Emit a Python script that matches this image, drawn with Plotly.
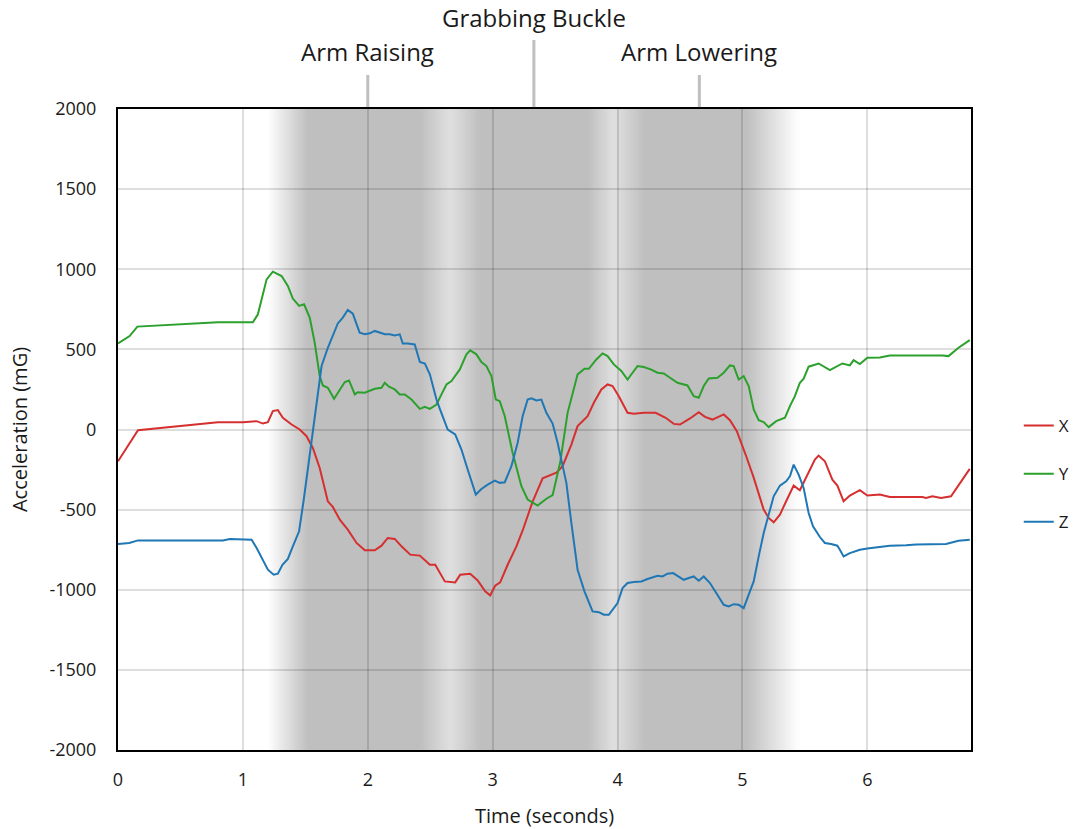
import numpy as np
import plotly.graph_objects as go

# ---------------- data ----------------
t_x = [0, 0.08, 0.16, 0.80, 1.0, 1.11, 1.16, 1.20, 1.24, 1.28, 1.32, 1.39, 1.455, 1.51, 1.56, 1.615,
       1.68, 1.72, 1.776, 1.84, 1.91, 1.976, 2.056, 2.11, 2.16, 2.216, 2.27, 2.34, 2.417, 2.497, 2.54,
       2.617, 2.70, 2.74, 2.82, 2.88, 2.94, 2.98, 3.02, 3.06, 3.12, 3.19, 3.24, 3.32, 3.40, 3.51, 3.56,
       3.63, 3.68, 3.76, 3.81, 3.87, 3.92, 3.96, 4.01, 4.08, 4.13, 4.21, 4.305, 4.385, 4.45, 4.50, 4.58,
       4.65, 4.70, 4.76, 4.81, 4.85, 4.90, 4.955, 5.03, 5.09, 5.17, 5.21, 5.25, 5.30, 5.35, 5.41, 5.46,
       5.525, 5.58, 5.61, 5.66, 5.72, 5.76, 5.81, 5.86, 5.94, 6.00, 6.10, 6.18, 6.44, 6.47, 6.52, 6.59,
       6.67, 6.75, 6.82]
x_vals = [-198, -104, -4, 46, 46, 52, 37, 46, 115, 121, 73, 31, 0, -42, -115, -240,
          -448, -483, -563, -625, -708, -754, -754, -725, -677, -683, -729, -781, -787, -844, -844,
          -948, -954, -906, -900, -942, -1010, -1035, -975, -954, -844, -729, -630, -450, -305, -270, -229,
          -94, 21, 83, 167, 250, 281, 271, 208, 104, 98, 104, 104, 73, 35, 31, 69,
          108, 79, 62, 77, 94, 58, -10, -167, -300, -500, -552, -579, -531, -448, -350, -379,
          -281, -188, -163, -198, -313, -350, -448, -412, -379, -412, -406, -421, -421, -427, -417, -427,
          -417, -323, -246]

t_y = [0, 0.093, 0.155, 0.80, 1.08, 1.12, 1.19, 1.24, 1.31, 1.36, 1.40, 1.45, 1.49, 1.535, 1.575,
       1.615, 1.64, 1.68, 1.73, 1.77, 1.816, 1.85, 1.896, 1.92, 1.976, 2.056, 2.11, 2.136, 2.17, 2.216,
       2.256, 2.296, 2.35, 2.417, 2.457, 2.497, 2.55, 2.59, 2.63, 2.67, 2.737, 2.79, 2.82, 2.87, 2.91,
       2.95, 2.99, 3.025, 3.057, 3.097, 3.16, 3.23, 3.28, 3.36, 3.43, 3.48, 3.54, 3.60, 3.68, 3.735,
       3.77, 3.83, 3.88, 3.92, 3.97, 4.03, 4.08, 4.12, 4.16, 4.21, 4.265, 4.32, 4.37, 4.42, 4.48, 4.56,
       4.61, 4.65, 4.69, 4.73, 4.80, 4.85, 4.90, 4.93, 4.97, 5.01, 5.05, 5.09, 5.13, 5.17, 5.21, 5.27,
       5.34, 5.38, 5.42, 5.46, 5.49, 5.53, 5.61, 5.70, 5.80, 5.86, 5.89, 5.94, 6.00, 6.10, 6.18, 6.60,
       6.65, 6.73, 6.82]
y_vals = [537, 583, 642, 669, 669, 719, 937, 985, 958, 896, 817, 771, 781, 698, 542,
          333, 275, 260, 192, 240, 296, 306, 219, 233, 229, 254, 260, 292, 267, 250,
          219, 219, 187, 129, 142, 129, 156, 219, 281, 302, 375, 469, 494, 469, 421,
          396, 333, 187, 177, 83, -146, -354, -437, -475, -432, -410, -208, 104, 344, 379,
          379, 437, 475, 458, 406, 365, 312, 354, 396, 390, 375, 354, 350, 323, 292, 275,
          208, 198, 271, 319, 323, 354, 400, 396, 312, 333, 271, 125, 58, 46, 15, 52,
          73, 146, 208, 292, 317, 392, 412, 371, 412, 400, 433, 408, 448, 450, 462, 462,
          458, 510, 558]

t_z = [0, 0.09, 0.16, 0.84, 0.895, 1.07, 1.11, 1.16, 1.20, 1.247, 1.28, 1.317, 1.36, 1.40, 1.45,
       1.487, 1.535, 1.59, 1.63, 1.68, 1.72, 1.76, 1.80, 1.84, 1.88, 1.91, 1.935, 1.976, 2.016, 2.056,
       2.096, 2.136, 2.176, 2.216, 2.256, 2.28, 2.32, 2.376, 2.417, 2.457, 2.497, 2.55, 2.577, 2.64,
       2.70, 2.75, 2.80, 2.865, 2.91, 2.96, 3.017, 3.057, 3.097, 3.15, 3.20, 3.24, 3.28, 3.31, 3.35,
       3.39, 3.43, 3.48, 3.52, 3.56, 3.59, 3.63, 3.68, 3.735, 3.80, 3.85, 3.89, 3.93, 4.0, 4.04, 4.08,
       4.13, 4.19, 4.24, 4.32, 4.36, 4.40, 4.445, 4.49, 4.53, 4.57, 4.61, 4.65, 4.69, 4.74, 4.80, 4.85,
       4.89, 4.93, 4.97, 5.01, 5.05, 5.09, 5.13, 5.17, 5.21, 5.25, 5.30, 5.35, 5.38, 5.41, 5.45, 5.49,
       5.53, 5.565, 5.62, 5.66, 5.71, 5.76, 5.78, 5.81, 5.86, 5.94, 6.00, 6.10, 6.18, 6.31, 6.39, 6.63,
       6.73, 6.82]
z_vals = [-715, -708, -692, -692, -683, -688, -740, -812, -875, -906, -900, -844, -808, -729, -635,
          -440, -167, 167, 396, 510, 583, 662, 698, 746, 723, 662, 604, 594, 600, 615,
          604, 594, 594, 587, 594, 537, 537, 531, 421, 412, 344, 187, 129, 0,
          -31, -125, -250, -406, -371, -344, -319, -333, -329, -229, -83, 83, 187, 194, 181,
          187, 104, 37, -83, -229, -333, -583, -875, -1010, -1135, -1140, -1156, -1156, -1083, -990, -958,
          -952, -948, -933, -913, -917, -900, -896, -917, -938, -927, -917, -944, -917, -958, -1031, -1094,
          -1104, -1090, -1094, -1115, -1031, -948, -792, -646, -531, -417, -350, -323, -292, -219, -281, -365,
          -521, -604, -671, -708, -715, -725, -750, -792, -771, -750, -742, -733, -725, -723, -717, -715,
          -694, -688]

series_names = ["X", "Y", "Z"]
series_colors = ["#d62f2f", "#2ca02c", "#1f77b4"]

phase_labels = ["Arm Raising", "Grabbing Buckle", "Arm Lowering"]
phase_times = [2.0, 3.33, 4.655]

y_ticks = [2000, 1500, 1000, 500, 0, -500, -1000, -1500, -2000]
x_ticks = [0, 1, 2, 3, 4, 5, 6]

# shading profile (time -> gray level)
shade_t = [1.20, 1.52, 2.42, 2.66, 2.90, 3.76, 3.97, 4.22, 5.03, 5.45]
shade_g = [255, 191, 191, 224, 191, 191, 224, 191, 191, 255]

FONT = "Open Sans"
TXT = "#1a1a1a"

fig = go.Figure()
for name, tt, vv, col in zip(series_names, [t_x, t_y, t_z], [x_vals, y_vals, z_vals], series_colors):
    fig.add_trace(go.Scatter(x=tt, y=vv, mode="lines", name=name, legendgroup=name,
                             line=dict(color=col, width=2)))

# gradient shading as thin overlapping rectangles (overlap hides anti-alias seams)
step = 0.01
edges = np.arange(shade_t[0], shade_t[-1] + step / 2, step)
runs = []
for i in range(len(edges) - 1):
    mid = (edges[i] + edges[i + 1]) / 2
    g = int(round(np.interp(mid, shade_t, shade_g)))
    if runs and runs[-1][2] == g:
        runs[-1][1] = edges[i + 1]
    else:
        runs.append([edges[i], edges[i + 1], g])
shapes = []
for k, (a, b, g) in enumerate(runs):
    x1 = b + 0.02 if k < len(runs) - 1 else b
    shapes.append(dict(type="rect", xref="x", yref="paper", x0=a, x1=x1, y0=0, y1=1,
                       fillcolor=f"rgb({g},{g},{g})", line=dict(width=0), layer="below"))

W, H = 1087, 829
PL, PT, PR, PB = 118, 109, 971, 750
plot_h = float(PB - PT)

line_tops = [(PB - 75) / plot_h, (PB - 40) / plot_h, (PB - 75) / plot_h]
text_y = [(PB - 52) / plot_h, (PB - 17) / plot_h, (PB - 52) / plot_h]
annotations = []
for lab, tm, lt, ty in zip(phase_labels, phase_times, line_tops, text_y):
    shapes.append(dict(type="line", xref="x", yref="paper", x0=tm, x1=tm, y0=1.003, y1=lt,
                       line=dict(color="#bfbfbf", width=3)))
    annotations.append(dict(text=lab, x=tm, y=ty, xref="x", yref="paper", showarrow=False,
                            font=dict(family=FONT, size=24, color=TXT),
                            xanchor="center", yanchor="middle"))

fig.update_layout(
    width=W, height=H,
    margin=dict(l=PL, r=W - PR, t=PT, b=H - PB),
    paper_bgcolor="white", plot_bgcolor="white",
    font=dict(family=FONT, size=18, color=TXT),
    shapes=shapes, annotations=annotations,
    showlegend=True,
    legend=dict(x=1.056, y=(PB - 408) / plot_h, xanchor="left", yanchor="top",
                font=dict(family=FONT, size=17, color=TXT), tracegroupgap=23,
                bgcolor="rgba(0,0,0,0)"),
)
fig.update_xaxes(range=[0, 6.83], tickvals=x_ticks, ticktext=[str(v) for v in x_ticks],
                 showgrid=True, gridcolor="rgba(0,0,0,0.13)", gridwidth=2, zeroline=False,
                 showline=True, linecolor="black", linewidth=2, mirror=True,
                 ticks="outside", ticklen=12, tickcolor="rgba(0,0,0,0)",
                 tickfont=dict(family=FONT, size=18, color=TXT),
                 title=dict(text="Time (seconds)", font=dict(family=FONT, size=20, color=TXT), standoff=27),
                 automargin=False)
fig.update_yaxes(range=[-2000, 2000], tickvals=y_ticks, ticktext=[str(v) for v in y_ticks],
                 showgrid=True, gridcolor="rgba(0,0,0,0.13)", gridwidth=2, zeroline=False,
                 showline=True, linecolor="black", linewidth=2, mirror=True,
                 ticks="outside", ticklen=16, tickcolor="rgba(0,0,0,0)",
                 tickfont=dict(family=FONT, size=18, color=TXT),
                 title=dict(text="Acceleration (mG)", font=dict(family=FONT, size=20, color=TXT), standoff=16),
                 automargin=False)

# remove the page's default body margin so the figure fills the window exactly
fig.write_html("out.html", config={"displayModeBar": False},
               post_script="document.body.style.margin='0';document.body.style.overflow='hidden';")
